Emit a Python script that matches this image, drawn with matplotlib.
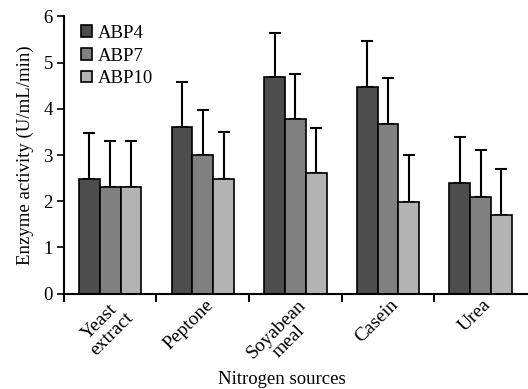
import matplotlib
matplotlib.use('Agg')
import matplotlib.pyplot as plt
import matplotlib.transforms as mtransforms
import numpy as np

plt.rcParams['font.family'] = ['Liberation Serif', 'DejaVu Serif']

# Data
sources = ['Yeast\nextract', 'Peptone', 'Soyabean\nmeal', 'Casein', 'Urea']
strains = ['ABP4', 'ABP7', 'ABP10']
abp4 = [2.48, 3.6, 4.68, 4.48, 2.39]
abp7 = [2.31, 2.99, 3.78, 3.68, 2.1]
abp10 = [2.31, 2.48, 2.61, 1.99, 1.7]
abp4_err = [1.0, 0.97, 0.97, 0.98, 1.0]
abp7_err = [1.0, 0.99, 0.98, 0.98, 1.0]
abp10_err = [0.99, 1.01, 0.97, 1.0, 0.99]

colors = ['#4d4d4d', '#808080', '#b3b3b3']

fig = plt.figure(figsize=(5.28, 3.89), dpi=100)
ax = fig.add_axes([0.121, 0.245, 0.877, 0.713])

x = np.arange(len(sources))
w = 0.225
for i, (vals, errs) in enumerate([(abp4, abp4_err), (abp7, abp7_err), (abp10, abp10_err)]):
    ax.bar(x + (i - 1) * w, vals, w, color=colors[i], edgecolor='black', linewidth=1.2,
           label=strains[i], zorder=2)
    ax.errorbar(x + (i - 1) * w, vals, yerr=[np.zeros(len(errs)), errs], fmt='none',
                ecolor='black', elinewidth=1.5, capsize=4, capthick=1.5, zorder=1)

ax.set_xlim(-0.5, 4.5)
ax.set_ylim(0, 6)
ax.set_yticks(range(7))
ax.tick_params(axis='y', direction='out', length=5, width=1.2, labelsize=13.5, pad=3)

ax.set_xticks(np.arange(-0.5, 4.5, 1))
ax.set_xticklabels([])
ax.tick_params(axis='x', which='major', direction='out', length=6, width=1.5)
ax.set_xticks(x, minor=True)
ax.set_xticklabels(sources, minor=True, rotation=45, ha='right', rotation_mode='anchor',
                   fontsize=14, linespacing=1.05)
ax.tick_params(axis='x', which='minor', length=0, pad=2)
shift = mtransforms.ScaledTranslation(0.02, 0, fig.dpi_scale_trans)
for lab in ax.get_xticklabels(minor=True):
    lab.set_multialignment('center')
    lab.set_transform(lab.get_transform() + shift)

for s in ['top', 'right']:
    ax.spines[s].set_visible(False)
for s in ['left', 'bottom']:
    ax.spines[s].set_linewidth(1.5)

ax.set_ylabel('Enzyme activity (U/mL/min)', fontsize=13.5, labelpad=7)
fig.text(282 / 528, 1 - 379 / 389, 'Nitrogen sources', fontsize=13.5,
         ha='center', va='center')

ax.legend(loc='upper left', bbox_to_anchor=(0.0, 1.03), frameon=False, fontsize=13.5,
          handlelength=0.6, handleheight=0.6, handletextpad=0.3, labelspacing=0.3)

fig.savefig('out.png', dpi=100)
